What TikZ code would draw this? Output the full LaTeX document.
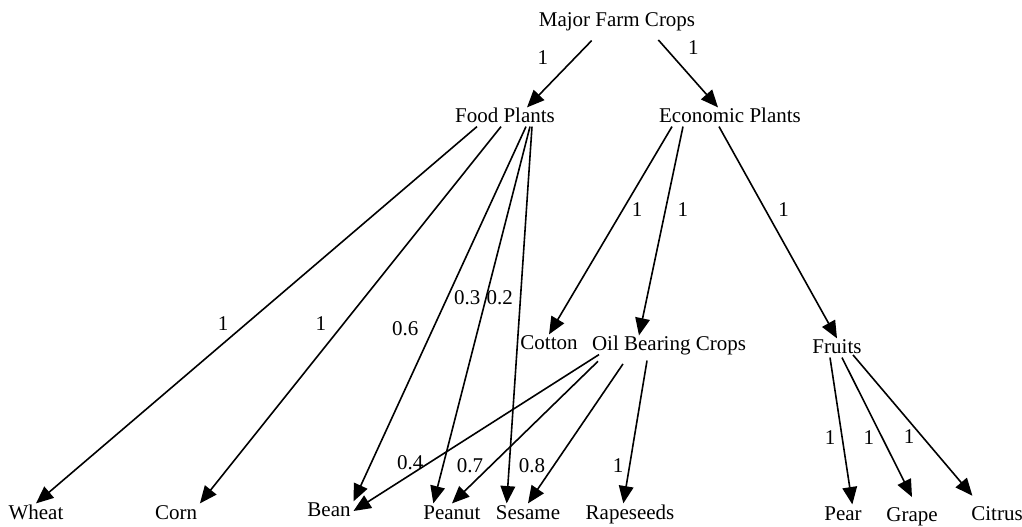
\documentclass[tikz,border=0pt]{standalone}
\usepackage{fontspec}
\setmainfont{Liberation Serif}
\usetikzlibrary{arrows.meta}
\tikzset{crop/.style = {anchor=base, inner xsep=2pt, inner ysep=0pt, text height=1.15em, text depth=0.25em}}
\tikzset{link/.style = {-{Triangle[length=13pt,width=11pt]}, line width=1.2pt}}
\tikzset{wt/.style = {inner sep=0pt}}

\begin{document}
\begin{tikzpicture}[x=0.75pt, y=-0.75pt, font=\fontsize{15.75}{18}\selectfont]
  \useasboundingbox (0,0) rectangle (1022,527);

  % levels
  \node[crop] (major) at (617, 27) {Major Farm Crops};
  \node[crop] (food) at (505, 123) {Food Plants};
  \node[crop] (econ) at (730, 123) {Economic Plants};
  \node[crop] (cotton) at (549, 350) {Cotton};
  \node[crop] (oil) at (669, 351) {Oil Bearing Crops};
  \node[crop] (fruits) at (837, 354) {Fruits};
  \node[crop] (wheat) at (36, 519) {Wheat};
  \node[crop] (corn) at (176, 519) {Corn};
  \node[crop] (bean) at (329, 517) {Bean};
  \node[crop] (peanut) at (452, 519) {Peanut};
  \node[crop] (sesame) at (528, 519) {Sesame};
  \node[crop] (rape) at (630, 519) {Rapeseeds};
  \node[crop] (pear) at (843, 520) {Pear};
  \node[crop] (grape) at (912, 522) {Grape};
  \node[crop] (citrus) at (997, 520) {Citrus};

  \draw[link] ([xshift=-19pt,yshift=-7.5pt]major.south) -- node[wt, pos=0.26, xshift=-24pt] {1} ([xshift=16.5pt]food.north);
  \draw[link] ([xshift=31pt,yshift=-7pt]major.south) -- node[wt, pos=0.12, xshift=21pt] {1} ([xshift=-9pt]econ.north);

  % food plants
  \draw[link] ([xshift=-21pt]food.south) -- node[wt, pos=0.523, xshift=-17.5pt] {1} (wheat.north);
  \draw[link] ([xshift=-3pt]food.south) -- node[wt, pos=0.523, xshift=-17pt] {1} (corn.north east);
  \draw[link] ([xshift=15.75pt]food.south) -- node[wt, pos=0.54, xshift=-20.7pt] {0.6} (bean.north east);
  \draw[link] ([xshift=18.75pt]food.south) -- node[wt, pos=0.455, xshift=-14pt] {0.3} ([xshift=-14pt]peanut.north);
  \draw[link] ([xshift=20.25pt]food.south) -- node[wt, pos=0.455, xshift=-15.5pt] {0.2} ([xshift=-16pt]sesame.north);

  % economic plants
  \draw[link] ([xshift=-43.5pt]econ.south) -- node[wt, pos=0.4, xshift=10.7pt] {1} (cotton.north);
  \draw[link] ([xshift=-35.25pt]econ.south) -- node[wt, pos=0.397, xshift=13pt] {1} ([xshift=-22.5pt]oil.north);
  \draw[link] ([xshift=-8.25pt]econ.south) -- node[wt, pos=0.39, xshift=14pt] {1} (fruits.north);

  % oil bearing crops
  \draw[link] ([xshift=-52.5pt]oil.south) -- node[wt, pos=0.689, xshift=-14.7pt] {0.4} (bean.east);
  \draw[link] ([xshift=-53.25pt,yshift=-5pt]oil.south) -- node[wt, pos=0.735, xshift=-15.5pt] {0.7} (peanut.north);
  \draw[link] ([xshift=-34.5pt,yshift=-7pt]oil.south) -- node[wt, pos=0.729, xshift=-16.3pt] {0.8} (sesame.north);
  \draw[link] ([xshift=-16.5pt,yshift=-4.5pt]oil.south) -- node[wt, pos=0.737, xshift=-8.5pt] {1} ([xshift=-5pt]rape.north);

  % fruits
  \draw[link] ([xshift=-5.25pt]fruits.south) -- node[wt, pos=0.543, xshift=-9pt] {1} ([xshift=7pt]pear.north);
  \draw[link] ([xshift=3.75pt]fruits.south) -- node[wt, pos=0.576, xshift=-10pt] {1} ([yshift=7pt]grape.north);
  \draw[link] ([xshift=12pt,yshift=2pt]fruits.south) -- node[wt, pos=0.582, xshift=-10pt] {1} ([xshift=3pt,yshift=6.5pt]citrus.north west);
\end{tikzpicture}
\end{document}
